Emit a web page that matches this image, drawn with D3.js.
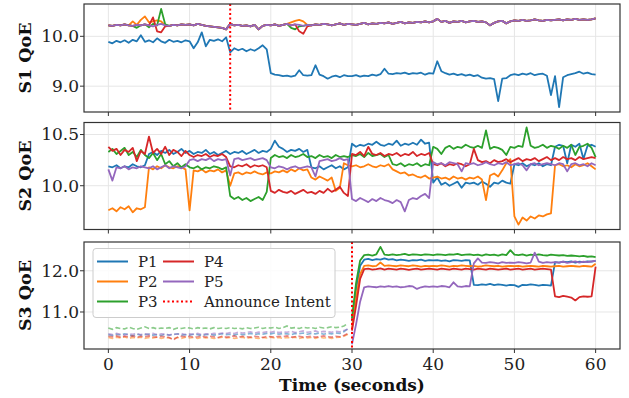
<!DOCTYPE html>
<html>
<head>
<meta charset="utf-8">
<script src="https://cdn.jsdelivr.net/npm/d3@7"></script>
<style>
  html, body { margin: 0; padding: 0; background: #fff; }
  svg { display: block; font-family: 'DejaVu Serif', serif; }
</style>
</head>
<body>
<div id="chart"></div>
<script>
// sampling step of every series (seconds), first sample at t = 0
const DT = 0.5;
const SERIES = ['P1', 'P2', 'P3', 'P4', 'P5'];
const COLORS = ['#1f77b4', '#ff7f0e', '#2ca02c', '#d62728', '#9467bd'];
const X_TICKS = [0, 10, 20, 30, 40, 50, 60];

// ---- S1 ----
const s1P1 = [
  9.89, 9.86, 9.91, 9.88, 9.92, 9.87, 9.93, 9.90, 10.02, 9.89,
  9.92, 9.88, 9.96, 9.90, 9.87, 9.93, 9.89, 9.91, 9.88, 9.92,
  9.90, 9.76, 9.88, 10.08, 9.80, 9.93, 9.91, 9.94, 9.90, 9.98,
  9.68, 9.76, 9.72, 9.75, 9.70, 9.74, 9.71, 9.76, 9.82, 9.74,
  9.26, 9.23, 9.22, 9.20, 9.21, 9.19, 9.21, 9.32, 9.22, 9.21,
  9.22, 9.42, 9.23, 9.20, 9.15, 9.19, 9.21, 9.18, 9.22, 9.20,
  9.20, 9.22, 9.19, 9.21, 9.20, 9.23, 9.21, 9.24, 9.35, 9.25,
  9.24, 9.26, 9.25, 9.27, 9.24, 9.26, 9.25, 9.27, 9.23, 9.26,
  9.25, 9.50, 9.30, 9.26, 9.23, 9.25, 9.22, 9.24, 9.21, 9.23,
  9.20, 9.22, 9.17, 9.15, 9.16, 9.14, 8.70, 9.15, 9.16, 9.22,
  9.24, 9.22, 9.25, 9.23, 9.26, 9.22, 9.24, 9.25, 9.21, 8.82,
  9.20, 8.58, 9.18, 9.22, 9.24, 9.26, 9.29, 9.25, 9.27, 9.24,
  9.23];
const s1P2 = [
  10.22, 10.21, 10.23, 10.22, 10.24, 10.22, 10.30, 10.23, 10.33, 10.40,
  10.28, 10.30, 10.32, 10.30, 10.22, 10.21, 10.23, 10.22, 10.24, 10.23,
  10.24, 10.22, 10.25, 10.23, 10.21, 10.20, 10.19, 10.18, 10.17, 10.14,
  10.25, 10.22, 10.23, 10.21, 10.22, 10.20, 10.23, 10.14, 10.21, 10.23,
  10.22, 10.24, 10.21, 10.23, 10.25, 10.28, 10.31, 10.33, 10.30, 10.23,
  10.22, 10.24, 10.23, 10.25, 10.24, 10.22, 10.24, 10.26, 10.23, 10.25,
  10.24, 10.23, 10.25, 10.27, 10.24, 10.26, 10.25, 10.27, 10.26, 10.28,
  10.25, 10.27, 10.29, 10.26, 10.28, 10.27, 10.29, 10.28, 10.30, 10.28,
  10.30, 10.35, 10.29, 10.31, 10.27, 10.30, 10.29, 10.31, 10.28, 10.30,
  10.31, 10.29, 10.30, 10.28, 10.22, 10.27, 10.30, 10.31, 10.26, 10.30,
  10.32, 10.31, 10.33, 10.31, 10.32, 10.34, 10.32, 10.31, 10.33, 10.32,
  10.33, 10.34, 10.32, 10.34, 10.33, 10.35, 10.33, 10.34, 10.33, 10.34,
  10.36];
const s1P3 = [
  10.22, 10.21, 10.23, 10.22, 10.24, 10.22, 10.21, 10.17, 10.22, 10.24,
  10.18, 10.25, 10.22, 10.55, 10.24, 10.21, 10.23, 10.22, 10.24, 10.23,
  10.24, 10.22, 10.25, 10.23, 10.21, 10.20, 10.19, 10.18, 10.17, 10.14,
  10.25, 10.22, 10.23, 10.21, 10.22, 10.20, 10.23, 10.14, 10.21, 10.23,
  10.22, 10.24, 10.21, 10.23, 10.25, 10.17, 10.14, 10.20, 10.21, 10.23,
  10.22, 10.24, 10.23, 10.25, 10.24, 10.22, 10.24, 10.26, 10.23, 10.25,
  10.24, 10.23, 10.25, 10.27, 10.24, 10.26, 10.25, 10.27, 10.26, 10.28,
  10.25, 10.27, 10.29, 10.26, 10.28, 10.27, 10.29, 10.28, 10.30, 10.28,
  10.30, 10.35, 10.29, 10.31, 10.27, 10.30, 10.29, 10.31, 10.28, 10.30,
  10.31, 10.29, 10.30, 10.28, 10.22, 10.27, 10.30, 10.31, 10.26, 10.30,
  10.32, 10.31, 10.33, 10.31, 10.32, 10.34, 10.32, 10.31, 10.33, 10.32,
  10.33, 10.34, 10.32, 10.34, 10.33, 10.35, 10.33, 10.34, 10.33, 10.34,
  10.36];
const s1P4 = [
  10.22, 10.21, 10.23, 10.22, 10.24, 10.22, 10.21, 10.23, 10.22, 10.24,
  10.22, 10.38, 10.10, 10.08, 10.20, 10.21, 10.23, 10.22, 10.24, 10.23,
  10.24, 10.22, 10.25, 10.23, 10.21, 10.20, 10.19, 10.18, 10.17, 10.14,
  10.25, 10.22, 10.23, 10.21, 10.22, 10.20, 10.23, 10.14, 10.21, 10.23,
  10.22, 10.24, 10.21, 10.23, 10.25, 10.22, 10.24, 10.10, 10.05, 10.20,
  10.22, 10.24, 10.23, 10.25, 10.24, 10.22, 10.24, 10.26, 10.23, 10.25,
  10.24, 10.23, 10.25, 10.27, 10.24, 10.26, 10.25, 10.27, 10.26, 10.28,
  10.25, 10.27, 10.29, 10.26, 10.28, 10.27, 10.29, 10.28, 10.30, 10.28,
  10.30, 10.35, 10.29, 10.31, 10.27, 10.30, 10.29, 10.31, 10.28, 10.30,
  10.31, 10.29, 10.30, 10.28, 10.22, 10.27, 10.30, 10.31, 10.26, 10.30,
  10.32, 10.31, 10.33, 10.31, 10.32, 10.34, 10.32, 10.31, 10.33, 10.32,
  10.33, 10.34, 10.32, 10.34, 10.33, 10.35, 10.33, 10.34, 10.33, 10.34,
  10.36];
const s1P5 = [
  10.22, 10.21, 10.23, 10.22, 10.24, 10.22, 10.21, 10.23, 10.22, 10.24,
  10.22, 10.20, 10.23, 10.25, 10.22, 10.21, 10.23, 10.22, 10.24, 10.23,
  10.24, 10.22, 10.25, 10.23, 10.21, 10.20, 10.19, 10.18, 10.17, 10.14,
  10.25, 10.22, 10.23, 10.21, 10.22, 10.20, 10.23, 10.14, 10.21, 10.23,
  10.22, 10.24, 10.21, 10.23, 10.25, 10.22, 10.24, 10.23, 10.21, 10.23,
  10.22, 10.24, 10.23, 10.25, 10.24, 10.22, 10.24, 10.26, 10.23, 10.25,
  10.24, 10.23, 10.25, 10.27, 10.24, 10.26, 10.25, 10.27, 10.26, 10.28,
  10.25, 10.27, 10.29, 10.26, 10.28, 10.27, 10.29, 10.28, 10.30, 10.28,
  10.30, 10.35, 10.29, 10.31, 10.27, 10.30, 10.29, 10.31, 10.28, 10.30,
  10.31, 10.29, 10.30, 10.28, 10.22, 10.27, 10.30, 10.31, 10.26, 10.30,
  10.32, 10.31, 10.33, 10.31, 10.32, 10.34, 10.32, 10.31, 10.33, 10.32,
  10.33, 10.34, 10.32, 10.34, 10.33, 10.35, 10.33, 10.34, 10.33, 10.34,
  10.36];

// ---- S2 ----
const s2P1 = [
  10.19, 10.18, 10.20, 10.17, 10.19, 10.18, 10.21, 10.19, 10.18, 10.20,
  10.31, 10.33, 10.30, 10.34, 10.32, 10.35, 10.31, 10.33, 10.36, 10.32,
  10.34, 10.31, 10.33, 10.32, 10.35, 10.31, 10.33, 10.30, 10.32, 10.34,
  10.31, 10.33, 10.32, 10.34, 10.31, 10.33, 10.35, 10.32, 10.34, 10.33,
  10.36, 10.44, 10.38, 10.36, 10.33, 10.35, 10.34, 10.36, 10.33, 10.35,
  10.18, 10.17, 10.19, 10.16, 10.18, 10.20, 10.17, 10.19, 10.16, 10.18,
  10.41, 10.38, 10.40, 10.39, 10.41, 10.40, 10.43, 10.40, 10.39, 10.41,
  10.40, 10.44, 10.39, 10.41, 10.40, 10.42, 10.40, 10.45, 10.41, 10.42,
  10.03, 10.08, 10.01, 10.03, 10.00, 10.02, 10.04, 9.98, 10.03, 10.02,
  10.03, 10.01, 10.04, 10.02, 9.99, 10.03, 10.02, 10.05, 10.03, 10.02,
  10.21, 10.20, 10.22, 10.19, 10.21, 10.20, 10.22, 10.19, 10.21, 10.20,
  10.38, 10.40, 10.39, 10.22, 10.40, 10.38, 10.41, 10.26, 10.39, 10.40,
  10.38];
const s2P2 = [
  9.76, 9.78, 9.75, 9.79, 9.77, 9.80, 9.74, 9.78, 9.77, 9.79,
  10.18, 10.16, 10.19, 10.17, 10.20, 10.18, 10.17, 10.19, 10.18, 10.16,
  9.76, 10.15, 10.14, 10.16, 10.13, 10.15, 10.14, 10.16, 10.13, 10.15,
  10.00, 10.12, 10.13, 10.11, 10.13, 10.12, 10.14, 10.12, 10.11, 10.13,
  10.12, 10.14, 10.13, 10.15, 10.13, 10.16, 10.14, 10.17, 10.15, 10.16,
  10.08, 10.06, 10.09, 10.07, 10.05, 10.08, 9.95, 9.98, 10.22, 10.20,
  10.19, 10.20, 10.18, 10.19, 10.21, 10.19, 10.18, 10.20, 10.19, 10.21,
  10.16, 10.14, 10.12, 10.13, 10.10, 10.11, 10.09, 10.08, 10.10, 10.07,
  10.08, 10.09, 10.07, 10.08, 10.06, 10.09, 10.07, 10.08, 10.06, 10.08,
  10.07, 10.09, 10.06, 9.86, 10.10, 10.12, 10.09, 10.15, 10.22, 10.26,
  9.70, 9.62, 9.69, 9.66, 9.70, 9.68, 9.71, 9.70, 9.72, 9.73,
  10.20, 10.21, 10.19, 10.20, 10.18, 10.21, 10.19, 10.20, 10.22, 10.19,
  10.16];
const s2P3 = [
  10.33, 10.36, 10.31, 10.34, 10.37, 10.30, 10.33, 10.28, 10.35, 10.30,
  10.27, 10.32, 10.25, 10.31, 10.21, 10.24, 10.19, 10.22, 10.18, 10.21,
  10.18, 10.17, 10.19, 10.16, 10.18, 10.17, 10.19, 10.18, 10.16, 10.18,
  9.90, 9.87, 9.89, 9.86, 9.88, 9.85, 9.87, 9.89, 9.86, 9.94,
  10.27, 10.30, 10.28, 10.29, 10.27, 10.30, 10.28, 10.29, 10.31, 10.28,
  10.29, 10.27, 10.30, 10.28, 10.29, 10.27, 10.30, 10.28, 10.29, 10.28,
  10.30, 10.29, 10.31, 10.28, 10.32, 10.29, 10.30, 10.31, 10.28, 10.30,
  10.21, 10.20, 10.22, 10.19, 10.21, 10.20, 10.22, 10.19, 10.21, 10.20,
  10.38, 10.36, 10.31, 10.37, 10.39, 10.36, 10.38, 10.37, 10.40, 10.38,
  10.37, 10.39, 10.37, 10.54, 10.36, 10.38, 10.37, 10.35, 10.30, 10.38,
  10.37, 10.39, 10.38, 10.57, 10.39, 10.37, 10.38, 10.40, 10.37, 10.39,
  10.38, 10.36, 10.39, 10.37, 10.40, 10.30, 10.38, 10.39, 10.41, 10.37,
  10.28];
const s2P4 = [
  10.38, 10.34, 10.36, 10.30, 10.35, 10.33, 10.37, 10.24, 10.34, 10.31,
  10.48, 10.32, 10.36, 10.31, 10.38, 10.30, 10.35, 10.33, 10.29, 10.34,
  10.30, 10.28, 10.30, 10.29, 10.31, 10.28, 10.30, 10.29, 10.31, 10.28,
  10.19, 10.18, 10.20, 10.19, 10.21, 10.18, 10.20, 10.19, 10.20, 10.18,
  9.95, 9.93, 9.96, 9.94, 9.93, 9.95, 9.92, 9.94, 9.96, 9.93,
  9.94, 9.92, 9.95, 9.93, 9.97, 9.94, 9.96, 9.99, 9.93, 9.90,
  10.31, 10.30, 10.33, 10.29, 10.38, 10.31, 10.30, 10.32, 10.29, 10.31,
  10.30, 10.32, 10.29, 10.31, 10.30, 10.33, 10.29, 10.31, 10.30, 10.32,
  10.21, 10.20, 10.22, 10.19, 10.21, 10.20, 10.22, 10.21, 10.19, 10.21,
  10.36, 10.25, 10.23, 10.24, 10.22, 10.25, 10.23, 10.24, 10.26, 10.23,
  10.25, 10.27, 10.24, 10.26, 10.25, 10.27, 10.24, 10.26, 10.28, 10.25,
  10.27, 10.25, 10.28, 10.26, 10.27, 10.25, 10.28, 10.26, 10.27, 10.28,
  10.27];
const s2P5 = [
  10.16, 10.05, 10.18, 10.17, 10.19, 10.16, 10.18, 10.17, 10.19, 10.18,
  10.17, 10.19, 10.16, 10.18, 10.20, 10.17, 10.19, 10.18, 10.17, 10.19,
  10.25, 10.26, 10.24, 10.26, 10.25, 10.27, 10.24, 10.26, 10.25, 10.26,
  10.10, 10.26, 10.27, 10.25, 10.26, 10.27, 10.25, 10.26, 10.27, 10.25,
  10.18, 10.17, 10.19, 10.18, 10.16, 10.18, 10.19, 10.17, 10.18, 10.19,
  10.18, 10.09, 10.24, 10.25, 10.26, 10.24, 10.25, 10.27, 10.25, 10.26,
  9.87, 9.85, 9.88, 9.86, 9.84, 9.87, 9.85, 9.88, 9.86, 9.85,
  9.83, 9.86, 9.84, 9.75, 9.86, 9.88, 9.87, 9.90, 9.92, 9.88,
  10.23, 10.21, 10.22, 10.20, 10.23, 10.22, 10.21, 10.14, 10.22, 10.21,
  10.22, 10.20, 10.21, 10.23, 10.21, 10.20, 10.22, 10.21, 10.23, 10.20,
  10.21, 10.22, 10.20, 10.15, 10.21, 10.22, 10.20, 10.21, 10.22, 10.21,
  10.20, 10.22, 10.21, 10.14, 10.21, 10.22, 10.20, 10.21, 10.19, 10.22,
  10.20];

// ---- S3 (samples before S3_SPLIT are drawn dashed) ----
const S3_SPLIT = 30;
const s3P1 = [
  10.45, 10.43, 10.46, 10.44, 10.47, 10.45, 10.42, 10.46, 10.44, 10.45,
  10.46, 10.44, 10.45, 10.43, 10.46, 10.44, 10.45, 10.47, 10.44, 10.45,
  10.44, 10.46, 10.45, 10.43, 10.45, 10.46, 10.44, 10.45, 10.47, 10.45,
  10.46, 10.44, 10.47, 10.45, 10.46, 10.48, 10.45, 10.47, 10.46, 10.48,
  10.47, 10.49, 10.46, 10.48, 10.47, 10.45, 10.48, 10.47, 10.49, 10.46,
  10.48, 10.47, 10.49, 10.46, 10.48, 10.47, 10.49, 10.48, 10.52, 10.60,
  10.78, 11.55, 12.12, 12.27, 12.29, 12.26, 12.28, 12.27, 12.30, 12.27,
  12.28, 12.25, 12.27, 12.26, 12.24, 12.26, 12.25, 12.27, 12.24, 12.26,
  12.25, 12.26, 12.24, 12.25, 12.23, 12.26, 12.25, 12.24, 12.26, 12.25,
  11.66, 11.65, 11.67, 11.66, 11.68, 11.65, 11.67, 11.66, 11.64, 11.66,
  11.65, 11.61, 11.66, 11.65, 11.67, 11.66, 11.64, 11.66, 11.65, 11.64,
  12.21, 12.20, 12.22, 12.21, 12.23, 12.20, 12.22, 12.21, 12.23, 12.22,
  12.24];
const s3P2 = [
  10.38, 10.36, 10.39, 10.37, 10.40, 10.36, 10.38, 10.37, 10.39, 10.36,
  10.38, 10.37, 10.39, 10.36, 10.38, 10.37, 10.35, 10.38, 10.36, 10.39,
  10.37, 10.38, 10.36, 10.39, 10.37, 10.38, 10.36, 10.37, 10.39, 10.37,
  10.38, 10.36, 10.37, 10.39, 10.36, 10.38, 10.37, 10.36, 10.38, 10.37,
  10.39, 10.37, 10.38, 10.36, 10.38, 10.37, 10.39, 10.36, 10.38, 10.37,
  10.38, 10.36, 10.39, 10.37, 10.38, 10.36, 10.38, 10.39, 10.41, 10.46,
  10.62, 11.35, 11.92, 12.12, 12.13, 12.11, 12.12, 12.20, 12.12, 12.13,
  12.12, 12.11, 12.13, 12.12, 12.11, 12.13, 12.12, 12.10, 12.12, 12.11,
  12.12, 12.11, 12.13, 12.12, 12.10, 12.12, 12.11, 12.13, 12.12, 12.11,
  12.12, 12.10, 12.11, 12.13, 12.12, 12.11, 12.12, 12.10, 12.11, 12.12,
  12.11, 12.12, 12.10, 12.11, 12.12, 12.11, 12.10, 12.12, 12.11, 12.10,
  12.11, 12.12, 12.10, 12.11, 12.12, 12.11, 12.10, 12.12, 12.11, 12.10,
  12.17];
const s3P3 = [
  10.61, 10.58, 10.62, 10.60, 10.59, 10.63, 10.60, 10.58, 10.61, 10.64,
  10.60, 10.62, 10.59, 10.61, 10.60, 10.62, 10.58, 10.61, 10.60, 10.62,
  10.61, 10.59, 10.62, 10.60, 10.61, 10.59, 10.62, 10.60, 10.61, 10.60,
  10.62, 10.60, 10.61, 10.59, 10.62, 10.60, 10.61, 10.63, 10.60, 10.62,
  10.61, 10.63, 10.60, 10.62, 10.66, 10.61, 10.62, 10.60, 10.63, 10.61,
  10.62, 10.60, 10.63, 10.61, 10.62, 10.64, 10.62, 10.63, 10.66, 10.72,
  10.85, 11.70, 12.25, 12.38, 12.39, 12.37, 12.40, 12.58, 12.39, 12.38,
  12.40, 12.38, 12.39, 12.41, 12.38, 12.40, 12.39, 12.38, 12.40, 12.39,
  12.38, 12.40, 12.39, 12.38, 12.40, 12.39, 12.41, 12.38, 12.39, 12.40,
  12.38, 12.39, 12.37, 12.40, 12.38, 12.39, 12.37, 12.40, 12.38, 12.50,
  12.39, 12.38, 12.40, 12.37, 12.39, 12.38, 12.40, 12.38, 12.37, 12.39,
  12.38, 12.37, 12.38, 12.36, 12.37, 12.36, 12.35, 12.36, 12.34, 12.35,
  12.33];
const s3P4 = [
  10.41, 10.40, 10.42, 10.39, 10.41, 10.40, 10.42, 10.39, 10.41, 10.40,
  10.42, 10.40, 10.39, 10.41, 10.40, 10.38, 10.32, 10.39, 10.41, 10.40,
  10.41, 10.39, 10.40, 10.42, 10.39, 10.41, 10.40, 10.38, 10.41, 10.39,
  10.40, 10.42, 10.39, 10.41, 10.40, 10.39, 10.41, 10.40, 10.38, 10.41,
  10.40, 10.39, 10.41, 10.40, 10.42, 10.39, 10.40, 10.41, 10.39, 10.40,
  10.41, 10.39, 10.40, 10.42, 10.40, 10.39, 10.41, 10.40, 10.43, 10.48,
  10.55, 11.15, 11.80, 12.04, 12.05, 12.03, 12.04, 12.06, 12.03, 12.05,
  12.04, 12.03, 12.05, 12.04, 12.02, 12.04, 12.05, 12.03, 12.04, 12.05,
  12.04, 12.03, 12.05, 12.04, 12.03, 12.05, 12.04, 12.03, 12.05, 12.04,
  12.03, 12.05, 12.04, 12.03, 12.05, 12.04, 12.03, 12.04, 12.05, 12.03,
  12.04, 12.05, 12.03, 12.04, 12.05, 12.03, 12.04, 12.05, 12.04, 12.03,
  11.38, 11.36, 11.39, 11.37, 11.35, 11.28, 11.36, 11.38, 11.37, 11.38,
  12.10];
const s3P5 = [
  10.47, 10.45, 10.48, 10.46, 10.44, 10.47, 10.46, 10.48, 10.45, 10.47,
  10.46, 10.48, 10.45, 10.47, 10.46, 10.44, 10.47, 10.46, 10.48, 10.45,
  10.47, 10.46, 10.48, 10.45, 10.47, 10.46, 10.48, 10.47, 10.49, 10.48,
  10.50, 10.48, 10.51, 10.49, 10.50, 10.52, 10.49, 10.51, 10.50, 10.52,
  10.51, 10.53, 10.50, 10.52, 10.51, 10.53, 10.50, 10.52, 10.54, 10.51,
  10.52, 10.54, 10.51, 10.53, 10.52, 10.51, 10.53, 10.52, 10.55, 10.58,
  10.22, 10.70, 11.25, 11.60, 11.62, 11.61, 11.60, 11.62, 11.61, 11.63,
  11.61, 11.62, 11.60, 11.61, 11.63, 11.62, 11.56, 11.60, 11.62, 11.61,
  11.62, 11.61, 11.63, 11.62, 11.60, 11.72, 11.62, 11.61, 11.63, 11.62,
  12.18, 12.30, 12.20, 12.19, 12.21, 12.20, 12.18, 12.21, 12.19, 12.20,
  12.19, 12.21, 12.20, 12.18, 12.20, 12.44, 12.22, 12.19, 12.21, 12.20,
  12.21, 12.20, 12.22, 12.19, 12.21, 12.23, 12.20, 12.22, 12.21, 12.23,
  12.24];

const PANELS = [
  { label: 'S1 QoE', series: [s1P1, s1P2, s1P3, s1P4, s1P5], yTicks: [9.0, 10.0], announce: 15, split: null },
  { label: 'S2 QoE', series: [s2P1, s2P2, s2P3, s2P4, s2P5], yTicks: [10.0, 10.5], announce: null, split: null },
  { label: 'S3 QoE', series: [s3P1, s3P2, s3P3, s3P4, s3P5], yTicks: [11.0, 12.0], announce: S3_SPLIT, split: S3_SPLIT },
];

const W = 629, H = 398;
const left = 84, right = 620;
const bands = [[4, 112], [122.5, 229.5], [242, 349]];
const ANNOUNCE_COLOR = '#ff0000';

// matplotlib-style 5% margins
const pad = ([a, b]) => { const r = b - a; return [a - 0.05 * r, b + 0.05 * r]; };

const x = d3.scaleLinear().domain(pad([0, 60])).range([left, right]);

const svg = d3.select('#chart').append('svg')
  .attr('width', W).attr('height', H);

PANELS.forEach((p, pi) => {
  const [top, bottom] = bands[pi];
  const all = p.series.flat();
  const y = d3.scaleLinear().domain(pad(d3.extent(all))).range([bottom, top]);
  const g = svg.append('g');

  const clipId = 'clip' + pi;
  g.append('clipPath').attr('id', clipId)
    .append('rect').attr('x', left).attr('y', top)
    .attr('width', right - left).attr('height', bottom - top);

  // grid
  g.append('g').selectAll('line').data(X_TICKS).join('line')
    .attr('x1', d => x(d)).attr('x2', d => x(d))
    .attr('y1', top).attr('y2', bottom)
    .attr('stroke', '#e6e6e6').attr('stroke-width', 1);
  g.append('g').selectAll('line').data(p.yTicks).join('line')
    .attr('x1', left).attr('x2', right)
    .attr('y1', d => y(d)).attr('y2', d => y(d))
    .attr('stroke', '#e6e6e6').attr('stroke-width', 1);

  const plot = g.append('g').attr('clip-path', `url(#${clipId})`);
  const line = d3.line().x(d => x(d[0])).y(d => y(d[1]));
  const pts = arr => arr.map((v, i) => [i * DT, v]);

  if (p.split != null) {
    // pre-announcement samples, dashed and faded
    p.series.forEach((s, si) => {
      plot.append('path')
        .datum(pts(s).filter(d => d[0] < p.split))
        .attr('d', line).attr('fill', 'none')
        .attr('stroke', COLORS[si]).attr('stroke-width', 1.6)
        .attr('stroke-dasharray', '5,2.5').attr('opacity', 0.55);
    });
    p.series.forEach((s, si) => {
      plot.append('path')
        .datum(pts(s).filter(d => d[0] >= p.split))
        .attr('d', line).attr('fill', 'none')
        .attr('stroke', COLORS[si]).attr('stroke-width', 1.8)
        .attr('stroke-linejoin', 'round');
    });
  } else {
    p.series.forEach((s, si) => {
      plot.append('path')
        .datum(pts(s))
        .attr('d', line).attr('fill', 'none')
        .attr('stroke', COLORS[si]).attr('stroke-width', 1.8)
        .attr('stroke-linejoin', 'round');
    });
  }

  if (p.announce != null) {
    plot.append('line')
      .attr('x1', x(p.announce)).attr('x2', x(p.announce))
      .attr('y1', top).attr('y2', bottom)
      .attr('stroke', ANNOUNCE_COLOR).attr('stroke-width', 2)
      .attr('stroke-dasharray', '2,2.5');
  }

  // frame
  g.append('rect')
    .attr('x', left).attr('y', top)
    .attr('width', right - left).attr('height', bottom - top)
    .attr('fill', 'none').attr('stroke', '#333').attr('stroke-width', 1.2);

  // x ticks on every panel, labels only on the last
  g.append('g').selectAll('line').data(X_TICKS).join('line')
    .attr('x1', d => x(d)).attr('x2', d => x(d))
    .attr('y1', bottom).attr('y2', bottom + 4)
    .attr('stroke', '#333').attr('stroke-width', 1);
  if (pi === PANELS.length - 1) {
    g.append('g').selectAll('text').data(X_TICKS).join('text')
      .attr('x', d => x(d)).attr('y', bottom + 21)
      .attr('text-anchor', 'middle')
      .style('font-size', '17px').attr('fill', '#222')
      .text(d => d);
  }

  // y ticks
  g.append('g').selectAll('line').data(p.yTicks).join('line')
    .attr('x1', left - 4).attr('x2', left)
    .attr('y1', d => y(d)).attr('y2', d => y(d))
    .attr('stroke', '#333').attr('stroke-width', 1);
  g.append('g').selectAll('text').data(p.yTicks).join('text')
    .attr('x', left - 5).attr('y', d => y(d)).attr('dy', '0.35em')
    .attr('text-anchor', 'end')
    .style('font-size', '17px').attr('fill', '#222')
    .text(d => d.toFixed(1));

  g.append('text')
    .attr('transform', `translate(30.5,${(top + bottom) / 2}) rotate(-90)`)
    .attr('text-anchor', 'middle')
    .style('font-size', '17.5px').style('font-weight', 'bold').attr('fill', '#111')
    .text(p.label);

  // legend lives in the last panel
  if (pi === PANELS.length - 1) {
    const lg = g.append('g').attr('transform', 'translate(93,248.5)');
    lg.append('rect').attr('width', 242).attr('height', 69).attr('rx', 3)
      .attr('fill', 'rgba(255,255,255,0.85)').attr('stroke', '#ccc');
    const items = SERIES.map((s, i) => ({ label: s, color: COLORS[i], dash: null }))
      .concat([{ label: 'Announce Intent', color: ANNOUNCE_COLOR, dash: '2,2.5' }]);
    items.forEach((it, i) => {
      const col = Math.floor(i / 3), row = i % 3;
      const ox = 4 + col * 66, oy = 13 + row * 20;
      lg.append('line').attr('x1', ox).attr('x2', ox + 31)
        .attr('y1', oy).attr('y2', oy)
        .attr('stroke', it.color).attr('stroke-width', 2)
        .attr('stroke-dasharray', it.dash);
      lg.append('text').attr('x', ox + 41).attr('y', oy).attr('dy', '0.35em')
        .style('font-size', '15px').attr('fill', '#222')
        .text(it.label);
    });
  }
});

svg.append('text')
  .attr('x', (left + right) / 2).attr('y', 391)
  .attr('text-anchor', 'middle')
  .style('font-size', '17px').style('font-weight', 'bold').attr('fill', '#111')
  .text('Time (seconds)');
</script>
</body>
</html>
